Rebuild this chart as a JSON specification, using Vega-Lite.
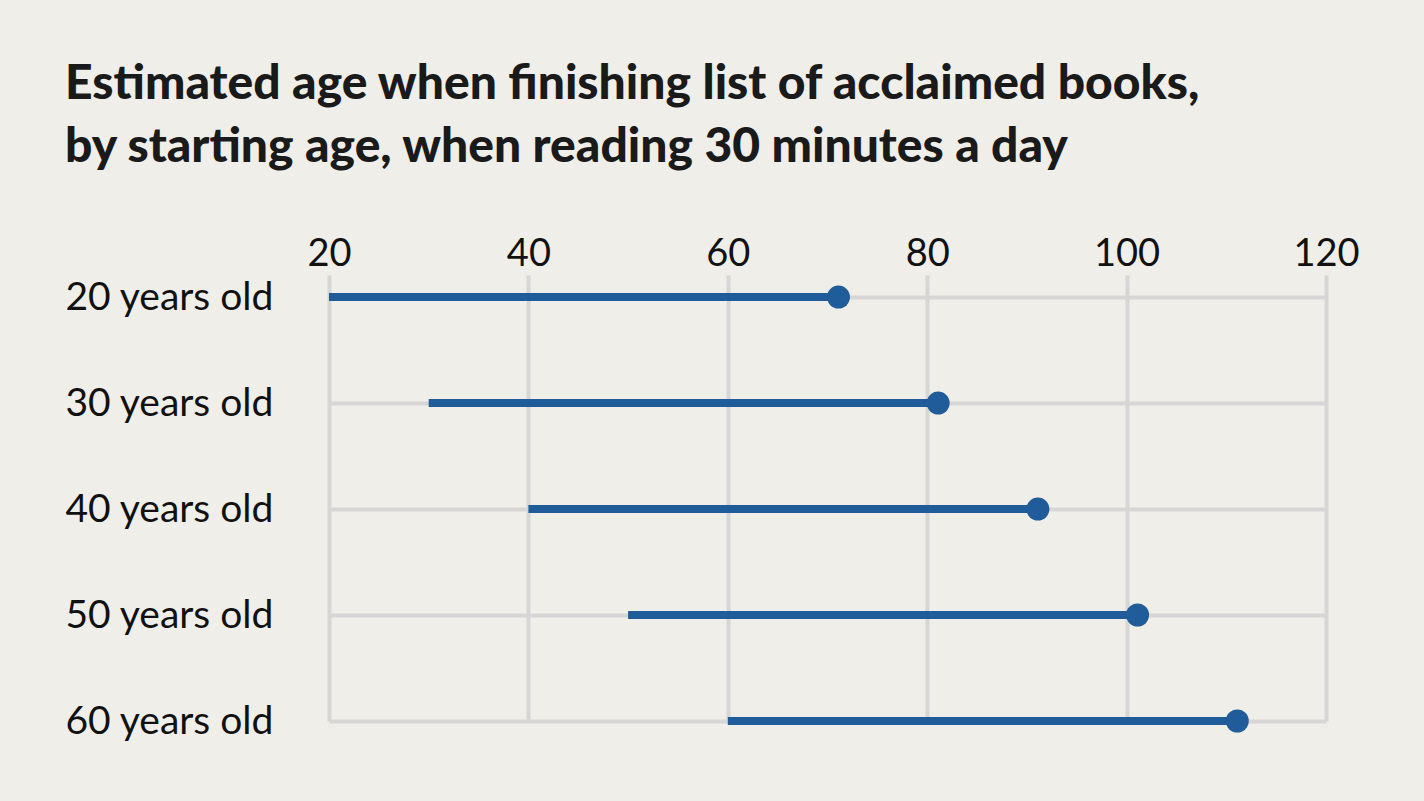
{
  "$schema": "https://vega.github.io/schema/vega-lite/v6.json",
  "width": 997,
  "height": 446,
  "autosize": {"type": "none"},
  "padding": {"left": 329, "top": 275, "right": 98, "bottom": 80},
  "background": "#f0eee9",
  "title": {
    "text": ["Estimated age when finishing list of acclaimed books,", "by starting age, when reading 30 minutes a day"],
    "anchor": "start",
    "frame": "group",
    "dx": -264,
    "font": "Lato",
    "fontWeight": 900,
    "fontSize": 48,
    "lineHeight": 63,
    "color": "#1a1a1a",
    "offset": 63
  },
  "config": {
    "view": {"stroke": null},
    "axis": {"domain": false, "ticks": false, "gridColor": "#d6d6d6", "gridWidth": 4, "labelColor": "#111111", "labelFont": "Lato", "labelFontWeight": 400, "labelFontSize": 39, "labelLimit": 0, "title": null}
  },
  "data": {
    "values": [
      {"label": "20 years old", "start": 20, "end": 71.1},
      {"label": "30 years old", "start": 30, "end": 81.1},
      {"label": "40 years old", "start": 40, "end": 91.1},
      {"label": "50 years old", "start": 50, "end": 101.1},
      {"label": "60 years old", "start": 60, "end": 111.1}
    ]
  },
  "encoding": {
    "y": {
      "field": "label",
      "type": "ordinal",
      "sort": null,
      "scale": {"type": "point", "padding": 0.104, "align": 1},
      "axis": {"orient": "left", "grid": true, "labelAlign": "left", "labelPadding": 264, "labelBaseline": "middle"}
    }
  },
  "layer": [
    {
      "mark": {"type": "rule", "color": "#1f5c99", "strokeWidth": 8, "strokeCap": "butt"},
      "encoding": {
        "x": {
          "field": "start",
          "type": "quantitative",
          "scale": {"domain": [20, 120], "nice": false, "zero": false},
          "axis": {"orient": "top", "values": [20, 40, 60, 80, 100, 120], "grid": true, "labelFlush": false, "labelPadding": 10, "labelBaseline": "alphabetic", "labelFontSize": 38}
        },
        "x2": {"field": "end"}
      }
    },
    {
      "mark": {"type": "circle", "color": "#1f5c99", "opacity": 1, "size": 530},
      "encoding": {
        "x": {"field": "end", "type": "quantitative"}
      }
    }
  ]
}
